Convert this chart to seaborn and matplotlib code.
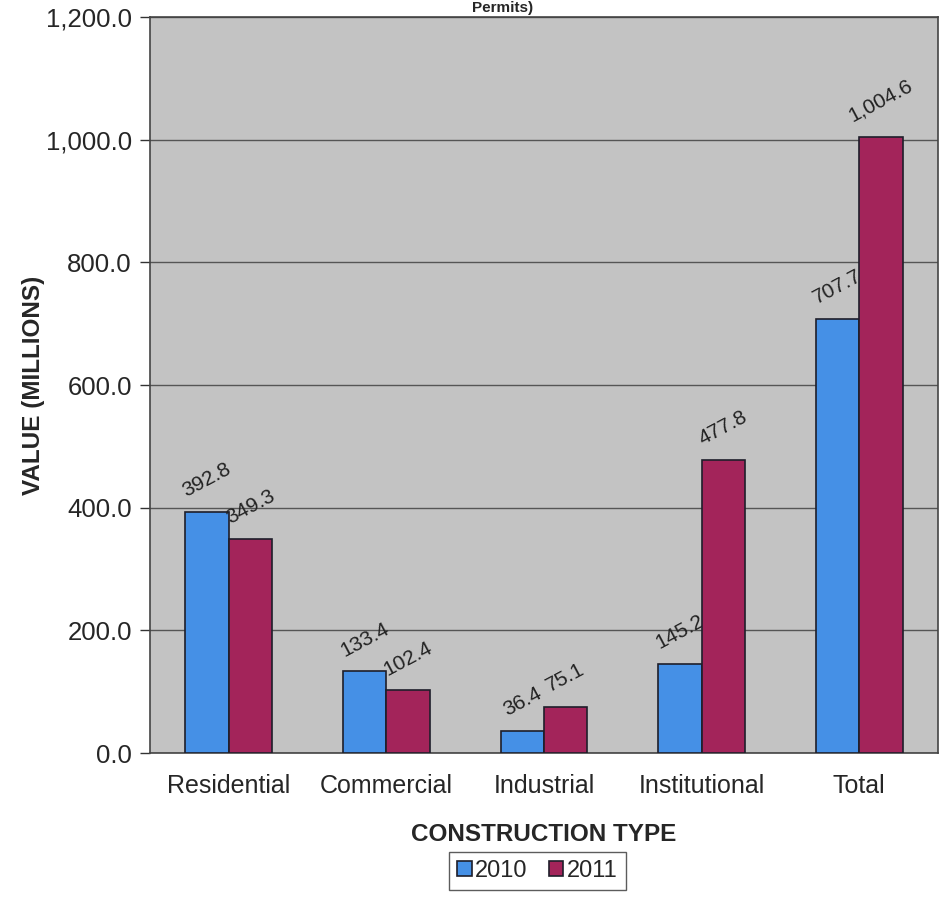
import numpy as np
import pandas as pd
import seaborn as sns
import matplotlib.pyplot as plt
from matplotlib.ticker import FuncFormatter, FixedLocator

categories = ['Residential', 'Commercial', 'Industrial', 'Institutional', 'Total']
years = ['2010', '2011']
values_2010 = [392.8, 133.4, 36.4, 145.2, 707.7]
values_2011 = [349.3, 102.4, 75.1, 477.8, 1004.6]
labels_2010 = ['392.8', '133.4', '36.4', '145.2', '707.7']
labels_2011 = ['349.3', '102.4', '75.1', '477.8', '1,004.6']

df = pd.DataFrame({
    'type': categories * 2,
    'year': [years[0]] * 5 + [years[1]] * 5,
    'value': values_2010 + values_2011,
})

sns.set_style('white')
plt.rcParams['font.family'] = ['Liberation Sans', 'DejaVu Sans']

fig = plt.figure(figsize=(9.46, 9.17), dpi=100)
ax = fig.add_axes([0.1586, 0.1788, 0.8329, 0.8027])
ax.set_facecolor('#c3c3c3')

palette = {'2010': '#4590e6', '2011': '#a3245a'}
sns.barplot(data=df, x='type', y='value', hue='year', palette=palette,
            width=0.55, edgecolor='#1e1e2a', linewidth=1.2, saturation=1,
            ax=ax, legend=True)

ax.set_ylim(0, 1200)
ax.set_xlim(-0.5, 4.5)
ax.set_yticks(np.arange(0, 1201, 200))
ax.yaxis.set_major_formatter(FuncFormatter(lambda v, p: f'{v:,.1f}'))
ax.grid(axis='y', color='#555555', linewidth=1.0, zorder=1)
ax.set_axisbelow(True)

# category ticks sit between groups
ax.tick_params(axis='x', which='major', length=0, labelsize=18, pad=15)
ax.xaxis.set_minor_locator(FixedLocator(np.arange(-0.5, 4.6, 1)))
ax.tick_params(axis='x', which='minor', length=6, width=1, color='#333333')
ax.tick_params(axis='y', length=7, width=1, color='#333333', labelsize=18.5,
               left=True, pad=6)

for s in ax.spines.values():
    s.set_color('#444444')
    s.set_linewidth(1.2)

# excel-like stacking: 2010 labels sit under the 2011 bars
z = 3
for cont, labs in zip(ax.containers, [labels_2010, labels_2011]):
    for bar, lab in zip(cont, labs):
        bar.set_zorder(z)
        x = bar.get_x() + bar.get_width() / 2
        ax.annotate(lab, (x, bar.get_height()), xytext=(0, 8),
                    textcoords='offset points', ha='center', va='bottom',
                    rotation=28, fontsize=15, color='#222222', zorder=z + 1)
    z += 2

ax.set_xlabel('CONSTRUCTION TYPE', fontsize=17.5, fontweight='bold', labelpad=18)
ax.set_ylabel('VALUE (MILLIONS)', fontsize=17.5, fontweight='bold')
ax.yaxis.set_label_coords(-0.133, 0.5)

handles, lbls = ax.get_legend_handles_labels()
ax.legend(handles, lbls, loc='center', bbox_to_anchor=(0.568, 0.05),
          bbox_transform=fig.transFigure, ncol=2, frameon=True,
          fancybox=False, edgecolor='#333333', fontsize=17,
          handlelength=0.6, handleheight=0.6, handletextpad=0.15,
          columnspacing=0.9, borderpad=0.35)

fig.text(0.531, 0.999, 'Permits)', ha='center', va='top',
         fontsize=11, fontweight='bold')

fig.savefig('out.png', dpi=100)
